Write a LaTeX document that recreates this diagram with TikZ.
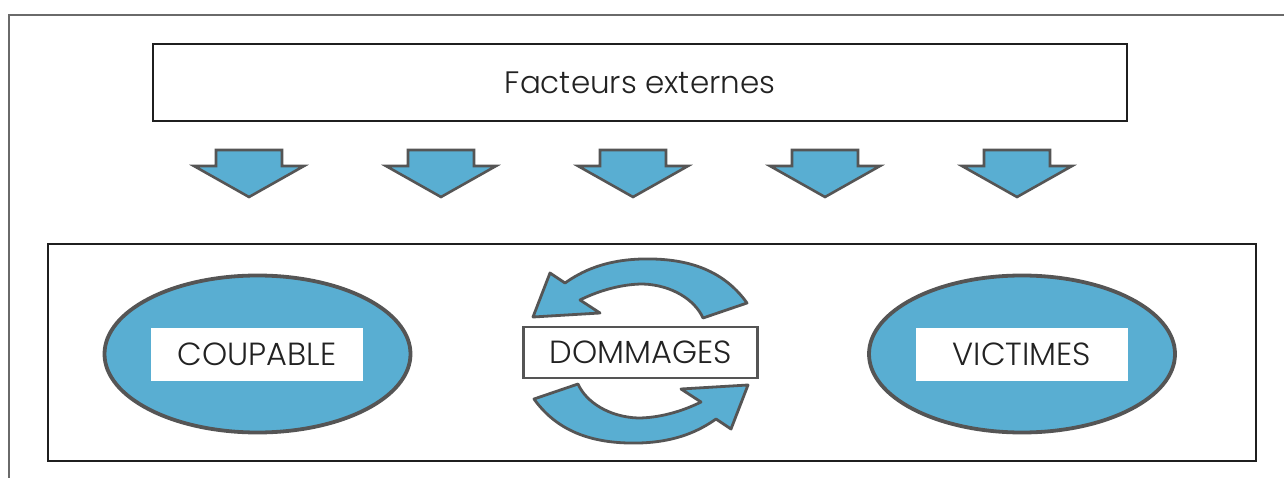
\documentclass[tikz,border=0pt]{standalone}
\usepackage{fontspec}
\setmainfont{Poppins}[UprightFont={* Light}]
\usetikzlibrary{shapes.geometric}
\definecolor{fillblue}{HTML}{59AED2}
\definecolor{edgegray}{HTML}{555555}
\definecolor{framegray}{HTML}{6A6A6A}
\definecolor{txt}{HTML}{222222}
\tikzset{
  bigbox/.style={draw=black!88, line width=2.2pt, fill=white},
  downarrow/.style={draw=edgegray, line width=2.6pt, fill=fillblue, line join=miter},
  oval/.style={ellipse, draw=edgegray, line width=3.8pt, fill=fillblue, minimum width=306pt, minimum height=157pt, inner sep=0pt},
  label/.style={fill=white, text=txt, minimum width=212pt, minimum height=53pt, inner sep=0pt, font=\fontsize{32}{35}\selectfont},
  dmgbox/.style={draw=edgegray, line width=2.2pt, fill=white, text=txt, minimum width=234pt, minimum height=51pt, inner sep=0pt, font=\fontsize{32}{35}\selectfont},
  cyclearrow/.style={draw=edgegray, line width=2.8pt, fill=fillblue, line join=round}
}
\begin{document}
\begin{tikzpicture}[x=1pt, y=-1pt]
\useasboundingbox (0,0) rectangle (1284,478);
\clip (0,0) rectangle (1284,478);
\fill[white] (0,0) rectangle (1284,478);
% outer frame
\draw[framegray, line width=2.4pt] (9,490) -- (9,15) -- (1300,15);
% top box
\node[bigbox, text=txt, minimum width=974pt, minimum height=77pt, inner sep=0pt, font=\fontsize{31}{34}\selectfont] (ext) at (640,82.5) {Facteurs externes};
% down arrows
\foreach \cx [count=\i] in {249,441,633,825,1017}{
  \draw[downarrow] (\cx-33,150) -- (\cx+33,150) -- (\cx+33,166) -- (\cx+55,166) -- (\cx,197) -- (\cx-55,166) -- (\cx-33,166) -- cycle;
}
% bottom box
\node[bigbox, minimum width=1208pt, minimum height=217pt, inner sep=0pt] (main) at (652,352.5) {};
% ellipses
\node[oval] (coupe) at (257.5,354) {};
\node[label] (coupable) at (257,354.5) {COUPABLE};
\node[oval] (victe) at (1022,354) {};
\node[label] (victimes) at (1022,354.5) {VICTIMES};
% cycle arrows
\begin{scope}
\draw[cyclearrow] (747,303) .. controls (722,268) and (684,258) .. (642,259)
  .. controls (605,260) and (582,271) .. (565,283)
  -- (550,273) -- (533,317) -- (600,313) -- (580,300)
  .. controls (600,290) and (623,284) .. (643,284)
  .. controls (672,285) and (695,300) .. (703,318) -- cycle;
\end{scope}
\begin{scope}[rotate around={180:(640.5,351)}]
\draw[cyclearrow] (747,303) .. controls (722,268) and (684,258) .. (642,259)
  .. controls (605,260) and (582,271) .. (565,283)
  -- (550,273) -- (533,317) -- (600,313) -- (580,300)
  .. controls (600,290) and (623,284) .. (643,284)
  .. controls (672,285) and (695,300) .. (703,318) -- cycle;
\end{scope}
\node[dmgbox] (dmg) at (640.5,352.5) {DOMMAGES};
\end{tikzpicture}
\end{document}
